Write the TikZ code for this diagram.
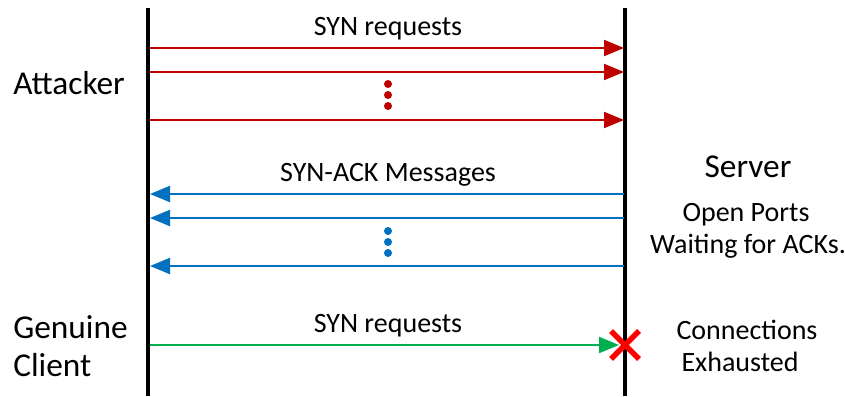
\documentclass[tikz,border=0pt]{standalone}
\usepackage{fontspec}
\setmainfont{Carlito}
\usetikzlibrary{arrows.meta,calc}
\definecolor{synred}{HTML}{C00000}
\definecolor{ackblue}{HTML}{0070C0}
\definecolor{okgreen}{HTML}{00B050}
\definecolor{xred}{HTML}{FF0000}
\tikzset{
  lifeline/.style={line width=2.4pt, black},
  msg/.style={line width=1.6pt, -{Triangle[length=15pt,width=12pt]}},
  small/.style={font=\fontsize{21}{25}\selectfont, inner sep=0pt},
  big/.style={font=\fontsize{25}{29}\selectfont, inner sep=0pt},
  dotmark/.style={circle, inner sep=0pt, minimum size=6pt},
}
\begin{document}
\begin{tikzpicture}[x=0.75pt, y=-0.75pt]
\useasboundingbox (0,0) rectangle (845,396);
% lifelines
\coordinate (ltop) at (148,8);   \coordinate (lbot) at (148,396);
\coordinate (rtop) at (625,8);   \coordinate (rbot) at (625,396);
\draw[lifeline] (ltop) -- (lbot);
\draw[lifeline] (rtop) -- (rbot);
% endpoints of messages
\foreach \n/\y in {r1/48, r2/72, r3/120, b1/194, b2/218, b3/266, g/345} {
  \coordinate (L\n) at (150,\y);
  \coordinate (R\n) at (624,\y);
}
% SYN flood
\foreach \n in {r1,r2,r3} \draw[msg, synred] (L\n) -- (R\n);
\node[small] (synlbl) at (388,29) {SYN requests};
\foreach \i/\y in {1/84, 2/95, 3/106} \node[dotmark, fill=synred] (rd\i) at (388,\y) {};
% SYN-ACK replies
\foreach \n in {b1,b2,b3} \draw[msg, ackblue] (R\n) -- (L\n);
\node[small] (acklbl) at (388,175) {SYN-ACK Messages};
\foreach \i/\y in {1/231, 2/242, 3/253} \node[dotmark, fill=ackblue] (bd\i) at (388,\y) {};
% genuine request
\coordinate (Rg2) at (619,345);
\draw[msg, okgreen] (Lg) -- (Rg2);
\node[small] (glbl) at (388,326) {SYN requests};
% refusal cross
\coordinate (xmark) at (625,345);
\draw[xred, line width=4pt] ($(xmark)+(-14,-14)$) -- ($(xmark)+(14,14)$);
\draw[xred, line width=4pt] ($(xmark)+(-14,14)$) -- ($(xmark)+(14,-14)$);
% actors
\node[big, anchor=west] (att) at (13,83) {Attacker};
\node[big, anchor=west] (gen) at (13,327) {Genuine};
\node[big, anchor=west] (cli) at (13,365) {Client};
\node[big] (srv) at (748,167) {Server};
\node[small] (op1) at (746,215) {Open Ports};
\node[small] (op2) at (748,246) {Waiting for ACKs.};
\node[small] (ce1) at (747,330) {Connections};
\node[small] (ce2) at (740,362) {Exhausted};
\end{tikzpicture}
\end{document}
